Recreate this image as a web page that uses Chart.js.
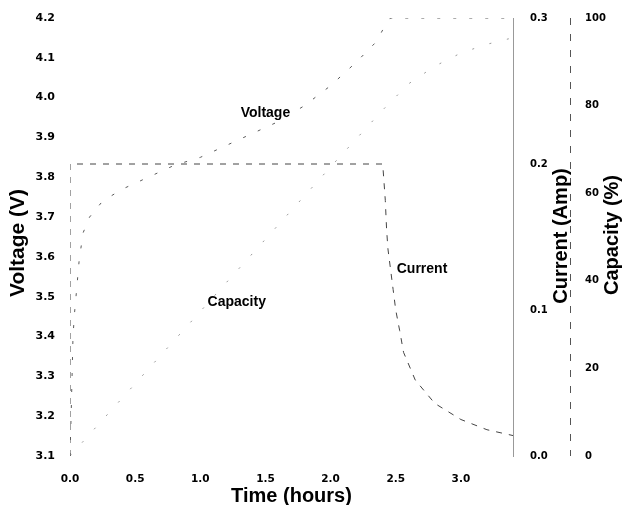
<!DOCTYPE html>
<html>
<head>
<meta charset="utf-8">
<script src="https://cdn.jsdelivr.net/npm/chart.js@4.4.1/dist/chart.umd.min.js"></script>
<style>
  html, body { margin: 0; padding: 0; background: #ffffff; }
  #wrap { width: 622px; height: 505px; }
</style>
</head>
<body>
<div id="wrap"><canvas id="chart" width="622" height="505"></canvas></div>
<script>
// Li-ion charge run: cell voltage, charge current and capacity against time (hours)
const timeVoltage = [0, 0.005, 0.01, 0.015, 0.023, 0.035, 0.046, 0.07, 0.1, 0.15, 0.25, 0.4, 0.6, 0.8, 1.0, 1.2, 1.4, 1.6, 1.8, 2.0, 2.2, 2.35, 2.40, 2.46, 2.7, 3.0, 3.4];
const voltage     = [3.10, 3.16, 3.22, 3.29, 3.40, 3.46, 3.50, 3.59, 3.66, 3.70, 3.74, 3.77, 3.80, 3.83, 3.85, 3.88, 3.91, 3.94, 3.98, 4.03, 4.09, 4.14, 4.17, 4.20, 4.20, 4.20, 4.20];

const timeCurrent = [0, 0, 2.40, 2.42, 2.43, 2.44, 2.48, 2.50, 2.53, 2.56, 2.65, 2.8, 3.0, 3.2, 3.4];
const current     = [0, 0.20, 0.20, 0.175, 0.155, 0.142, 0.114, 0.100, 0.086, 0.071, 0.052, 0.036, 0.025, 0.018, 0.014];

const timeCapacity = [0, 0.5, 1.0, 1.5, 2.0, 2.4, 2.5, 2.6, 2.8, 3.0, 3.2, 3.4];
const capacity     = [0, 16.5, 33, 49.5, 66, 79, 82, 85, 89, 92, 94, 95.5];

const timeTicks     = [0, 0.5, 1.0, 1.5, 2.0, 2.5, 3.0];
const voltageTicks  = [3.1, 3.2, 3.3, 3.4, 3.5, 3.6, 3.7, 3.8, 3.9, 4.0, 4.1, 4.2];
const currentTicks  = [0.0, 0.1, 0.2, 0.3];
const capacityTicks = [0, 20, 40, 60, 80, 100];

// in-plot curve names, anchored in data units on their own axis
const curveNames  = ['Voltage', 'Capacity', 'Current'];
const curveNameX  = [1.5, 1.28, 2.50];
const curveNameY  = [3.96, 35.2, 0.128];
const curveNameAx = ['yV', 'yCap', 'yI'];
const curveNameAlign = ['center', 'center', 'left'];

const TITLE_FONT = '"Liberation Sans", Arial, sans-serif';
const TICK_FONT = '"DejaVu Sans", sans-serif';

function pts(xs, ys) { return xs.map((x, i) => ({ x: x, y: ys[i] })); }
function near(list, v) { return list.some(t => Math.abs(t - v) < 1e-6); }

// fixed axis sizes; the label overhang is left to the layout padding
function fixSize(w, h) {
  return s => {
    if (w !== null) s.width = w;
    if (h !== null) s.height = h;
    s.paddingTop = 0; s.paddingBottom = 0;
    s.paddingLeft = 0; s.paddingRight = 0;
  };
}

const axisTitles = {
  id: 'axisTitles',
  afterDraw(chart) {
    const ctx = chart.ctx;
    const s = chart.scales;
    const area = chart.chartArea;
    ctx.save();

    // dashed spine of the capacity axis
    ctx.strokeStyle = '#555';
    ctx.lineWidth = 1;
    ctx.setLineDash([7, 9]);
    ctx.beginPath();
    ctx.moveTo(s.yCap.left + 0.5, area.top);
    ctx.lineTo(s.yCap.left + 0.5, area.bottom);
    ctx.stroke();
    ctx.setLineDash([]);

    ctx.fillStyle = '#000';
    ctx.textAlign = 'center';
    ctx.textBaseline = 'middle';

    ctx.font = 'bold 21px ' + TITLE_FONT;
    ctx.save(); ctx.translate(s.yV.left + 18, 243); ctx.rotate(-Math.PI / 2);
    ctx.fillText('Voltage (V)', 0, 0); ctx.restore();

    ctx.font = 'bold 20px ' + TITLE_FONT;
    ctx.fillText('Time (hours)', (area.left + area.right) / 2, 496);

    ctx.save(); ctx.translate(s.yI.left + 48, 236); ctx.rotate(-Math.PI / 2);
    ctx.fillText('Current (Amp)', 0, 0); ctx.restore();

    ctx.save(); ctx.translate(s.yCap.left + 42, 235); ctx.rotate(-Math.PI / 2);
    ctx.fillText('Capacity (%)', 0, 0); ctx.restore();

    // curve names inside the plot
    ctx.font = 'bold 14px ' + TITLE_FONT;
    curveNames.forEach((name, i) => {
      ctx.textAlign = curveNameAlign[i];
      const px = s.x.getPixelForValue(curveNameX[i]);
      const py = s[curveNameAx[i]].getPixelForValue(curveNameY[i]);
      ctx.fillText(name, curveNameAlign[i] === 'left' ? px + 1 : px, py);
    });
    ctx.restore();
  }
};

const lineStyle = { borderWidth: 1, pointRadius: 0, fill: false, tension: 0 };

new Chart(document.getElementById('chart'), {
  type: 'line',
  data: {
    datasets: [
      Object.assign({ label: 'Voltage', data: pts(timeVoltage, voltage), yAxisID: 'yV', borderColor: '#5a5a5a', borderDash: [3, 13] }, lineStyle),
      Object.assign({ label: 'Current', data: pts(timeCurrent, current), yAxisID: 'yI', borderColor: '#444', borderDash: [6, 7] }, lineStyle),
      Object.assign({ label: 'Capacity', data: pts(timeCapacity, capacity), yAxisID: 'yCap', borderColor: '#999', borderDash: [2, 16] }, lineStyle)
    ]
  },
  options: {
    responsive: false,
    devicePixelRatio: 1,
    animation: false,
    layout: { padding: { top: 18, left: 0, right: 0, bottom: 0 } },
    plugins: { legend: { display: false }, tooltip: { enabled: false } },
    scales: {
      x: {
        type: 'linear', position: 'bottom', min: 0, max: 3.4,
        grid: { display: false, drawTicks: false }, border: { display: false },
        ticks: {
          stepSize: 0.5, maxRotation: 0, autoSkip: false, padding: 17, color: '#000',
          font: { family: TICK_FONT, size: 10.5, weight: 'bold' },
          callback: v => near(timeTicks, v) ? v.toFixed(1) : ''
        },
        afterFit: fixSize(null, 49)
      },
      yV: {
        type: 'linear', position: 'left', min: 3.1, max: 4.2,
        grid: { display: false, drawTicks: false }, border: { display: false },
        ticks: {
          stepSize: 0.1, padding: 15, color: '#000',
          font: { family: TICK_FONT, size: 11, weight: 'bold' },
          callback: v => near(voltageTicks, v) ? v.toFixed(1) : ''
        },
        afterFit: fixSize(70, null)
      },
      yI: {
        type: 'linear', position: 'right', weight: 0, min: 0, max: 0.3,
        grid: { display: false, drawTicks: false },
        border: { display: true, color: '#999', width: 1 },
        ticks: {
          stepSize: 0.1, padding: 17, color: '#000',
          font: { family: TICK_FONT, size: 10, weight: 'bold' },
          callback: v => near(currentTicks, v) ? v.toFixed(1) : ''
        },
        afterFit: fixSize(57, null)
      },
      yCap: {
        type: 'linear', position: 'right', weight: 1, min: 0, max: 100,
        grid: { display: false, drawTicks: false },
        border: { display: false },
        ticks: {
          stepSize: 20, padding: 15, color: '#000',
          font: { family: TICK_FONT, size: 10, weight: 'bold' },
          callback: v => near(capacityTicks, v) ? String(v) : ''
        },
        afterFit: fixSize(52, null)
      }
    }
  },
  plugins: [axisTitles]
});
</script>
</body>
</html>
